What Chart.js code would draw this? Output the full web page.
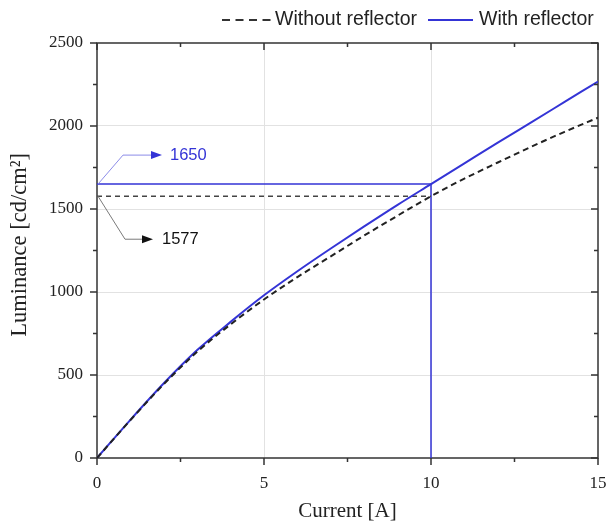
<!DOCTYPE html>
<html>
<head>
<meta charset="utf-8">
<script src="https://cdn.jsdelivr.net/npm/chart.js@4/dist/chart.umd.min.js"></script>
<style>
  html, body { margin: 0; padding: 0; background: #ffffff; }
  #wrap { width: 609px; height: 524px; position: relative; }
</style>
</head>
<body>
<div id="wrap"><canvas id="c" width="609" height="524"></canvas></div>
<script>
// ---- data ----
const current = [0, 1, 2, 3, 4, 5, 6, 7, 8, 9, 10, 11, 12, 13, 14, 15];
const withoutReflector = [0, 228, 445, 640, 805, 955, 1090, 1215, 1340, 1460, 1577, 1683, 1780, 1875, 1965, 2050];
const withReflector = [0, 230, 450, 650, 820, 980, 1125, 1262, 1395, 1525, 1650, 1775, 1900, 2022, 2145, 2268];
const seriesNames = ['Without reflector', 'With reflector'];
const xTickValues = [0, 5, 10, 15];
const yTickValues = [0, 500, 1000, 1500, 2000, 2500];
const markCurrent = 10;
const markWith = 1650;
const markWithout = 1577;

const BLUE = '#3434d6';
const DARK = '#222222';

function pts(xs, ys) { return xs.map((x, i) => ({ x: x, y: ys[i] })); }

const framePlugin = {
  id: 'frameTicks',
  beforeDatasetsDraw(chart) {
    const { ctx, chartArea: a } = chart;
    ctx.save();
    ctx.strokeStyle = '#333';
    ctx.lineWidth = 1.5;
    ctx.strokeRect(a.left, a.top, a.right - a.left, a.bottom - a.top);
    ctx.restore();
  },
  afterDraw(chart) {
    const { ctx, chartArea: a, scales } = chart;
    const xs = scales.x, ys = scales.y;
    ctx.save();
    ctx.strokeStyle = '#333';
    ctx.lineWidth = 1.5;
    for (let v = 0; v <= 15.001; v += 2.5) {
      const px = xs.getPixelForValue(v);
      const major = xTickValues.some(t => Math.abs(t - v) < 1e-6);
      const L = major ? 7 : 4;
      ctx.beginPath();
      ctx.moveTo(px, a.bottom); ctx.lineTo(px, a.bottom + L);
      ctx.moveTo(px, a.top); ctx.lineTo(px, a.top + L);
      ctx.stroke();
    }
    for (let v = 0; v <= 2500; v += 250) {
      const py = ys.getPixelForValue(v);
      const major = yTickValues.includes(v);
      const L = major ? 7 : 4;
      ctx.beginPath();
      ctx.moveTo(a.left, py); ctx.lineTo(a.left - L, py);
      ctx.moveTo(a.right, py); ctx.lineTo(a.right - L, py);
      ctx.stroke();
    }
    // annotations
    const x0 = xs.getPixelForValue(0);
    const yW = ys.getPixelForValue(markWith);
    const yWo = ys.getPixelForValue(markWithout);
    ctx.lineWidth = 1;
    ctx.strokeStyle = '#8c8ce8';
    ctx.beginPath();
    ctx.moveTo(x0 + 1, yW); ctx.lineTo(x0 + 26, yW - 29); ctx.lineTo(x0 + 56, yW - 29);
    ctx.stroke();
    ctx.fillStyle = BLUE;
    ctx.beginPath();
    ctx.moveTo(x0 + 65, yW - 29); ctx.lineTo(x0 + 54, yW - 33); ctx.lineTo(x0 + 54, yW - 25); ctx.closePath();
    ctx.fill();
    ctx.font = '16.5px "Liberation Sans", Arial, sans-serif';
    ctx.textBaseline = 'middle';
    ctx.textAlign = 'left';
    ctx.fillText(String(markWith), x0 + 73, yW - 29);
    ctx.strokeStyle = '#7a7a7a';
    ctx.beginPath();
    ctx.moveTo(x0 + 1, yWo); ctx.lineTo(x0 + 28, yWo + 43); ctx.lineTo(x0 + 47, yWo + 43);
    ctx.stroke();
    ctx.fillStyle = '#111';
    ctx.beginPath();
    ctx.moveTo(x0 + 56, yWo + 43); ctx.lineTo(x0 + 45, yWo + 39); ctx.lineTo(x0 + 45, yWo + 47); ctx.closePath();
    ctx.fill();
    ctx.fillText(String(markWithout), x0 + 65, yWo + 43);
    // legend
    const ly = 20;
    ctx.font = '19.5px "Liberation Sans", Arial, sans-serif';
    ctx.lineWidth = 2;
    ctx.strokeStyle = '#333';
    ctx.setLineDash([8, 5.5]);
    ctx.beginPath(); ctx.moveTo(222, ly); ctx.lineTo(272, ly); ctx.stroke();
    ctx.setLineDash([]);
    ctx.fillStyle = DARK;
    ctx.fillText(seriesNames[0], 275, ly);
    ctx.strokeStyle = BLUE;
    ctx.beginPath(); ctx.moveTo(428, ly); ctx.lineTo(473, ly); ctx.stroke();
    ctx.fillText(seriesNames[1], 479, ly);
    ctx.restore();
  }
};

const gridColor = '#e2e2e2';

new Chart(document.getElementById('c'), {
  type: 'line',
  data: {
    datasets: [
      {
        label: seriesNames[0],
        data: pts(current, withoutReflector),
        borderColor: DARK, borderWidth: 2, borderDash: [6, 4],
        pointRadius: 0, cubicInterpolationMode: 'monotone', fill: false
      },
      {
        label: seriesNames[1],
        data: pts(current, withReflector),
        borderColor: BLUE, borderWidth: 2,
        pointRadius: 0, cubicInterpolationMode: 'monotone', fill: false
      },
      {
        label: 'ref-without',
        data: [{ x: 0, y: markWithout }, { x: markCurrent, y: markWithout }],
        borderColor: '#444', borderWidth: 1.5, borderDash: [5, 4],
        pointRadius: 0, fill: false
      },
      {
        label: 'ref-with',
        data: [{ x: 0, y: markWith }, { x: markCurrent, y: markWith }, { x: markCurrent, y: 0 }],
        borderColor: BLUE, borderWidth: 1.5,
        pointRadius: 0, fill: false, tension: 0
      }
    ]
  },
  options: {
    responsive: false,
    animation: false,
    events: [],
    layout: { padding: { top: 43, right: 11, left: 0, bottom: 0 } },
    plugins: { legend: { display: false }, tooltip: { enabled: false } },
    scales: {
      x: {
        type: 'linear', min: 0, max: 15,
        afterFit(s) { s.height = 66; s.paddingLeft = 0; s.paddingRight = 0; },
        afterBuildTicks(s) { s.ticks = [0, 2.5, 5, 7.5, 10, 12.5, 15].map(v => ({ value: v })); },
        ticks: {
          padding: 15, maxRotation: 0, autoSkip: false,
          color: DARK,
          font: { family: '"Liberation Serif", "Times New Roman", serif', size: 17 },
          callback: v => (xTickValues.includes(v) ? String(v) : '')
        },
        grid: {
          drawTicks: false,
          color: c => ([5, 10].includes(c.tick && c.tick.value) ? gridColor : 'rgba(0,0,0,0)'),
          lineWidth: 1
        },
        border: { display: false },
        title: {
          display: true, text: 'Current [A]', color: DARK,
          font: { family: '"Liberation Serif", "Times New Roman", serif', size: 21 },
          padding: { top: 0, bottom: 0 }
        }
      },
      y: {
        type: 'linear', min: 0, max: 2500,
        afterFit(s) { s.width = 97; s.paddingTop = 0; s.paddingBottom = 0; },
        afterBuildTicks(s) {
          const t = []; for (let v = 0; v <= 2500; v += 250) t.push({ value: v }); s.ticks = t;
        },
        ticks: {
          padding: 14, autoSkip: false,
          color: DARK,
          font: { family: '"Liberation Serif", "Times New Roman", serif', size: 17 },
          callback: v => (yTickValues.includes(v) ? String(v) : '')
        },
        grid: {
          drawTicks: false,
          color: c => {
            const v = c.tick && c.tick.value;
            return (v > 0 && v < 2500 && v % 500 === 0) ? gridColor : 'rgba(0,0,0,0)';
          },
          lineWidth: 1
        },
        border: { display: false },
        title: {
          display: true, text: '  Luminance [cd/cm²]', color: DARK,
          font: { family: '"Liberation Serif", "Times New Roman", serif', size: 22.5 },
          padding: { top: 7, bottom: 0 }
        }
      }
    }
  },
  plugins: [framePlugin]
});
</script>
</body>
</html>
